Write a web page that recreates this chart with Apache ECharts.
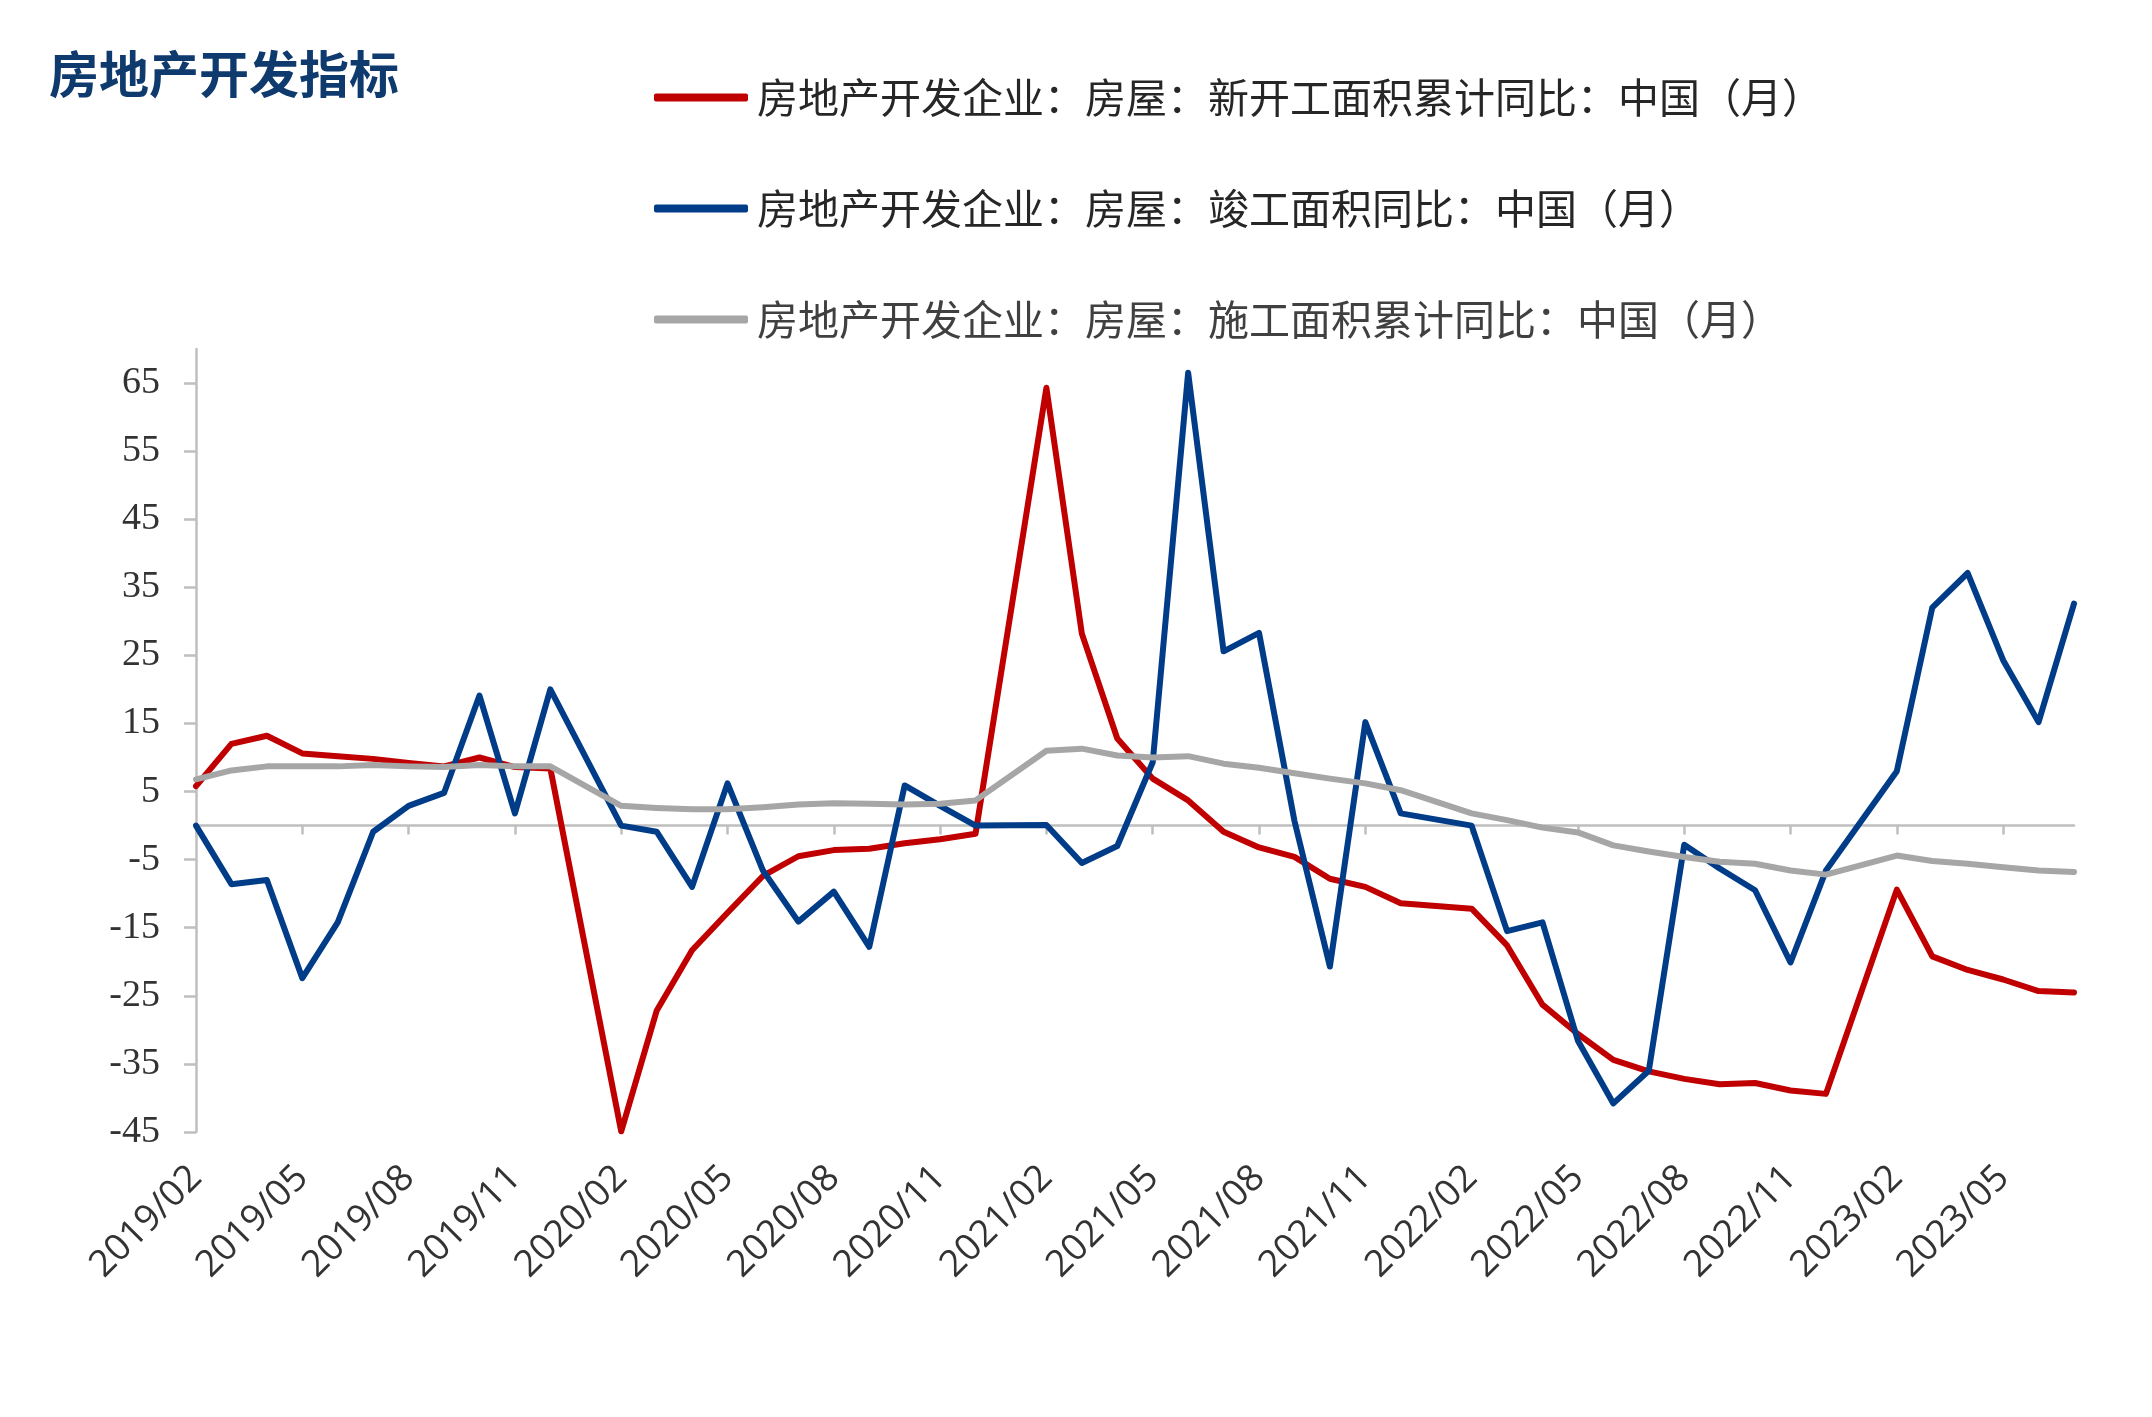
<!DOCTYPE html>
<html>
<head>
<meta charset="utf-8">
<title>房地产开发指标</title>
<script src="https://cdn.jsdelivr.net/npm/echarts@6/dist/echarts.min.js"></script>
<style>
  html, body { margin: 0; padding: 0; background: #fff; }
  #chart { width: 2152px; height: 1417px; }
</style>
</head>
<body>
<div id="chart"></div>
<script>
// months, 2019/02 .. 2023/07 (January has no release, left empty)
const months = [
  '2019/02','2019/03','2019/04','2019/05','2019/06','2019/07','2019/08','2019/09','2019/10','2019/11','2019/12',
  '2020/01','2020/02','2020/03','2020/04','2020/05','2020/06','2020/07','2020/08','2020/09','2020/10','2020/11','2020/12',
  '2021/01','2021/02','2021/03','2021/04','2021/05','2021/06','2021/07','2021/08','2021/09','2021/10','2021/11','2021/12',
  '2022/01','2022/02','2022/03','2022/04','2022/05','2022/06','2022/07','2022/08','2022/09','2022/10','2022/11','2022/12',
  '2023/01','2023/02','2023/03','2023/04','2023/05','2023/06','2023/07'
];

// 新开工面积累计同比
const newStart = [
  5.8, 12.0, 13.2, 10.6, 10.2, 9.8, 9.2, 8.7, 10.0, 8.6, 8.4,
  null, -44.9, -27.2, -18.3, -12.8, -7.4, -4.5, -3.6, -3.4, -2.6, -2.0, -1.2,
  null, 64.3, 28.2, 12.8, 6.9, 3.7, -0.9, -3.2, -4.6, -7.8, -9.0, -11.4,
  null, -12.2, -17.6, -26.3, -30.6, -34.4, -36.1, -37.2, -38.0, -37.8, -38.9, -39.4,
  null, -9.4, -19.2, -21.2, -22.6, -24.3, -24.5
];

// 竣工面积同比
const completed = [
  0.0, -8.6, -8.0, -22.4, -14.2, -0.9, 2.9, 4.8, 19.1, 1.8, 20.0,
  null, 0.0, -0.9, -9.0, 6.2, -6.6, -14.1, -9.7, -17.8, 5.9, 2.9, 0.0,
  null, 0.1, -5.5, -3.0, 9.3, 66.5, 25.6, 28.3, 0.7, -20.7, 15.2, 1.8,
  null, 0.0, -15.5, -14.2, -31.6, -40.8, -36.0, -2.8, -6.3, -9.5, -20.1, -6.6,
  null, 8.0, 32.0, 37.1, 24.3, 15.2, 32.6
];

// 施工面积累计同比
const underConstruction = [
  6.8, 8.1, 8.7, 8.7, 8.7, 8.9, 8.7, 8.6, 8.9, 8.7, 8.7,
  null, 2.9, 2.6, 2.4, 2.4, 2.7, 3.1, 3.3, 3.2, 3.1, 3.2, 3.7,
  null, 11.0, 11.3, 10.3, 10.0, 10.2, 9.1, 8.5, 7.7, 6.9, 6.2, 5.2,
  null, 1.8, 0.8, -0.3, -1.0, -2.9, -3.8, -4.6, -5.3, -5.6, -6.6, -7.2,
  null, -4.4, -5.2, -5.6, -6.1, -6.6, -6.8
];

const yTicks = [-45, -35, -25, -15, -5, 5, 15, 25, 35, 45, 55, 65];

const names = [
  '房地产开发企业：房屋：新开工面积累计同比：中国（月）',
  '房地产开发企业：房屋：竣工面积同比：中国（月）',
  '房地产开发企业：房屋：施工面积累计同比：中国（月）'
];
const colors = ['#c00000', '#003c88', '#a6a6a6'];

const chart = echarts.init(document.getElementById('chart'));

function lineSeries(name, data, color) {
  return {
    name: name,
    type: 'line',
    data: data,
    xAxisIndex: 0,
    connectNulls: true,
    symbol: 'none',
    lineStyle: { color: color, width: 6, cap: 'round', join: 'round' },
    itemStyle: { color: color },
    z: 3
  };
}

const option = {
  backgroundColor: '#fff',
  animation: false,
  color: colors,
  title: {
    text: '房地产开发指标',
    left: 44,
    top: 44,
    textStyle: {
      fontFamily: 'Noto Sans CJK SC',
      fontSize: 50,
      fontWeight: 'bold',
      color: '#0f3a6d'
    }
  },
  legend: {
    orient: 'vertical',
    left: 649,
    top: 72,
    itemGap: 70,
    itemWidth: 94,
    itemHeight: 8,
    icon: 'roundRect',
    textStyle: {
      fontFamily: 'Noto Sans CJK SC',
      fontSize: 41,
      color: '#262626',
      padding: [0, 0, 0, 4]
    },
    data: [
      { name: names[0] },
      { name: names[1] },
      { name: names[2], textStyle: { color: '#404040' } }
    ]
  },
  grid: {
    left: 196,
    right: 78,
    top: 349,
    bottom: 285,
    containLabel: false
  },
  xAxis: [
    {
      type: 'category',
      data: months,
      boundaryGap: false,
      axisLine: { onZero: true, lineStyle: { color: '#bfbfbf', width: 2.5 } },
      axisTick: { show: true, interval: 2, length: 9, lineStyle: { color: '#bfbfbf', width: 2.5 } },
      axisLabel: { show: false },
      splitLine: { show: false }
    },
    {
      type: 'category',
      data: months,
      boundaryGap: false,
      position: 'bottom',
      axisLine: { show: false, onZero: false },
      axisTick: { show: false },
      axisLabel: {
        interval: 2,
        rotate: 45,
        margin: 40,
        fontFamily: 'Open Sans',
        fontSize: 37,
        color: '#333333'
      },
      splitLine: { show: false }
    }
  ],
  yAxis: {
    type: 'value',
    min: -45,
    max: 70,
    interval: 10,
    axisLine: { show: true, lineStyle: { color: '#bfbfbf', width: 2.5 } },
    axisTick: { show: true, length: 12, customValues: yTicks, lineStyle: { color: '#bfbfbf', width: 2.5 } },
    axisLabel: {
      customValues: yTicks,
      margin: 36,
      fontFamily: 'Liberation Serif',
      fontSize: 38,
      color: '#333333'
    },
    splitLine: { show: false }
  },
  series: [
    lineSeries(names[0], newStart, colors[0]),
    lineSeries(names[1], completed, colors[1]),
    lineSeries(names[2], underConstruction, colors[2])
  ]
};

option && chart.setOption(option);
</script>
</body>
</html>
